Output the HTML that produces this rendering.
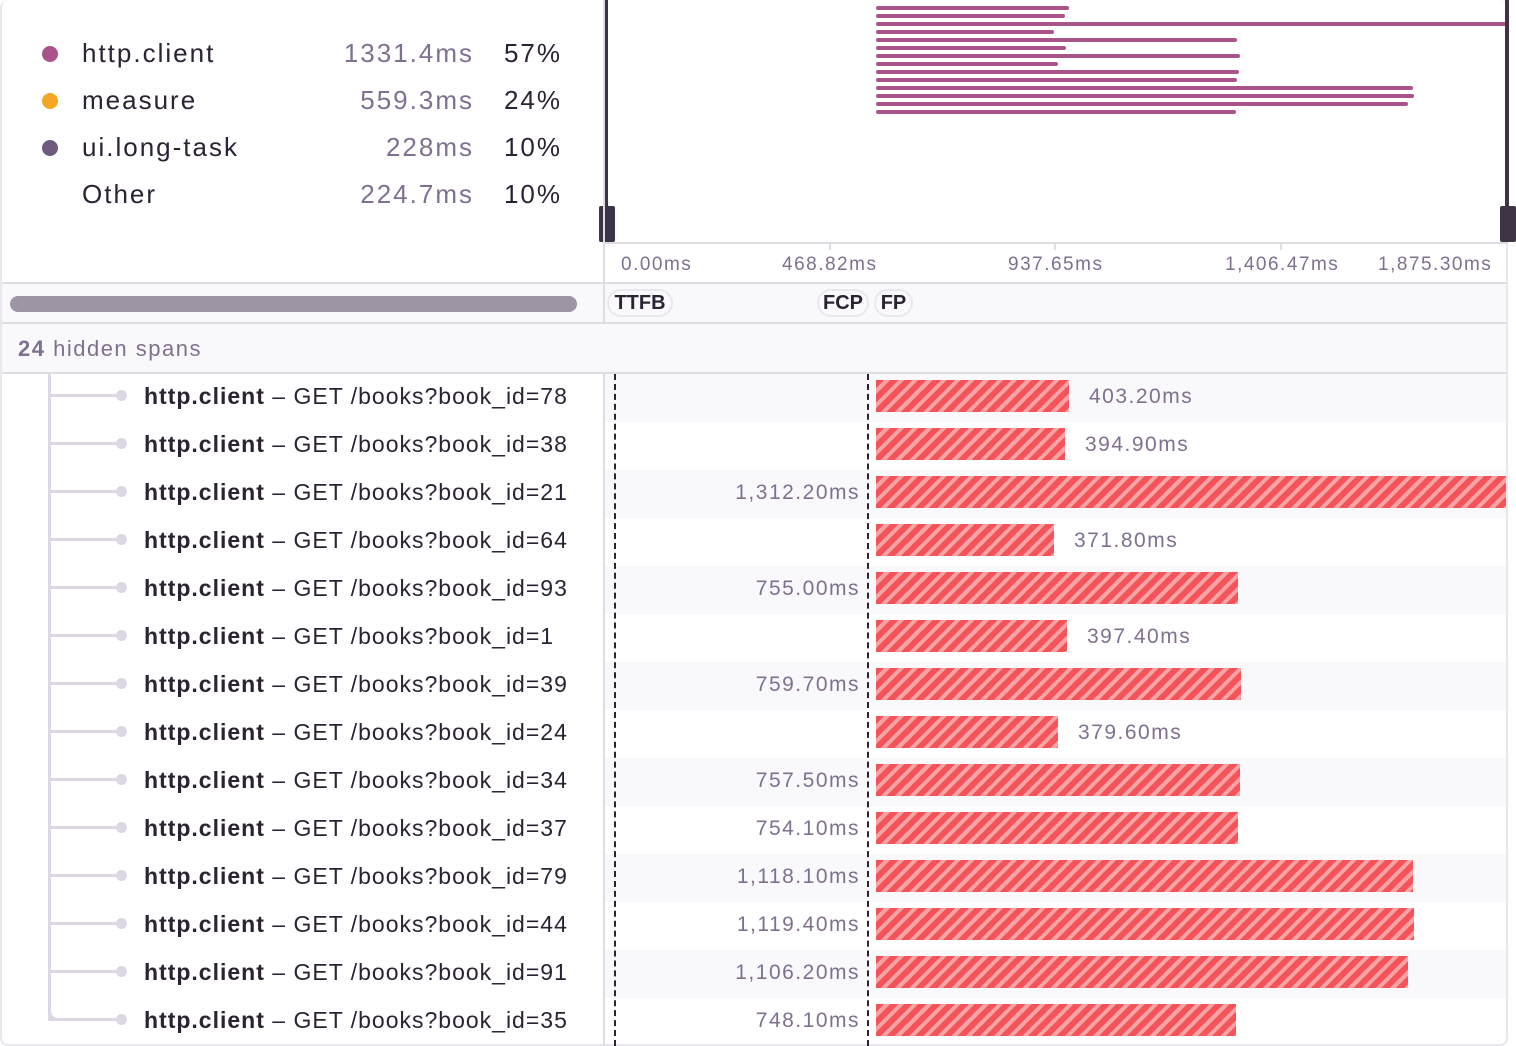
<!DOCTYPE html>
<html><head><meta charset="utf-8"><style>
*{margin:0;padding:0;box-sizing:border-box}
body{width:1516px;height:1046px;background:#fff;font-family:"Liberation Sans",sans-serif;position:relative;overflow:hidden;color:#2b2233}
.a{position:absolute}
.leg{font-size:26px;color:#2b2233;line-height:30px;letter-spacing:2px;white-space:nowrap}
.val{color:#80708f;text-align:right}
.row{position:absolute;left:2px;width:1504px;height:48px}
.lbl{position:absolute;left:144px;font-size:23px;line-height:48px;white-space:nowrap;color:#2b2233;letter-spacing:1px}
.lbl b{font-weight:bold}
.bar{position:absolute;height:32px;top:8px;background:repeating-linear-gradient(135deg,#f5535a 0 6px,#f8a3a5 6px 10px)}
.ms{position:absolute;font-size:21px;color:#80708f;line-height:48px;white-space:nowrap;letter-spacing:1.5px}
.mm{position:absolute;height:4px;border-radius:2px;background:#a8548a;left:876px}
.badge{position:absolute;top:289px;height:28px;border:2px solid #ebe7ef;border-radius:14px;font-weight:bold;font-size:20px;line-height:24px;text-align:center;background:#faf9fc}
.tick{position:absolute;font-size:19px;color:#80708f;top:254px;white-space:nowrap;letter-spacing:1.5px}
</style></head><body>
<div class="a" style="left:0;top:0;width:1508px;height:1046px;border:2px solid #e9e6ee;border-radius:8px;border-top:none"></div>
<div class="a" style="left:42px;top:46px;width:16px;height:16px;border-radius:50%;background:#a8548a"></div>
<div class="a" style="left:42px;top:93px;width:16px;height:16px;border-radius:50%;background:#f5a623"></div>
<div class="a" style="left:42px;top:140px;width:16px;height:16px;border-radius:50%;background:#6d5a7e"></div>
<div class="a leg" style="left:82px;top:38px">http.client</div>
<div class="a leg" style="left:82px;top:85px">measure</div>
<div class="a leg" style="left:82px;top:132px">ui.long-task</div>
<div class="a leg" style="left:82px;top:179px">Other</div>
<div class="a leg val" style="left:274px;top:38px;width:200px">1331.4ms</div>
<div class="a leg val" style="left:274px;top:85px;width:200px">559.3ms</div>
<div class="a leg val" style="left:274px;top:132px;width:200px">228ms</div>
<div class="a leg val" style="left:274px;top:179px;width:200px">224.7ms</div>
<div class="a leg" style="left:462px;top:38px;width:100px;text-align:right">57%</div>
<div class="a leg" style="left:462px;top:85px;width:100px;text-align:right">24%</div>
<div class="a leg" style="left:462px;top:132px;width:100px;text-align:right">10%</div>
<div class="a leg" style="left:462px;top:179px;width:100px;text-align:right">10%</div>
<div class="mm" style="top:6px;width:193px"></div>
<div class="mm" style="top:14px;width:189px"></div>
<div class="mm" style="top:22px;width:630px"></div>
<div class="mm" style="top:30px;width:178px"></div>
<div class="mm" style="top:38px;width:361px"></div>
<div class="mm" style="top:46px;width:190px"></div>
<div class="mm" style="top:54px;width:364px"></div>
<div class="mm" style="top:62px;width:182px"></div>
<div class="mm" style="top:70px;width:363px"></div>
<div class="mm" style="top:78px;width:361px"></div>
<div class="mm" style="top:86px;width:537px"></div>
<div class="mm" style="top:94px;width:538px"></div>
<div class="mm" style="top:102px;width:532px"></div>
<div class="mm" style="top:110px;width:360px"></div>
<div class="a" style="left:604px;top:0;width:4px;height:242px;background:#3e3446"></div>
<div class="a" style="left:599px;top:206px;width:16px;height:36px;background:#3e3446;border-radius:2px"></div>
<div class="a" style="left:1505px;top:0;width:4px;height:242px;background:#3e3446"></div>
<div class="a" style="left:1500px;top:206px;width:16px;height:36px;background:#3e3446;border-radius:2px"></div>
<div class="a" style="left:604px;top:242px;width:904px;height:2px;background:#e0dce5"></div>
<div class="a" style="left:829px;top:242px;width:2px;height:8px;background:#e0dce5"></div>
<div class="a" style="left:1054px;top:242px;width:2px;height:8px;background:#e0dce5"></div>
<div class="a" style="left:1280px;top:242px;width:2px;height:8px;background:#e0dce5"></div>
<div class="tick" style="left:621px">0.00ms</div>
<div class="tick" style="left:782px">468.82ms</div>
<div class="tick" style="left:1008px">937.65ms</div>
<div class="tick" style="left:1225px">1,406.47ms</div>
<div class="tick" style="left:1378px">1,875.30ms</div>
<div class="a" style="left:2px;top:282px;width:1504px;height:2px;background:#e0dce5"></div>
<div class="a" style="left:2px;top:284px;width:1504px;height:38px;background:#f9f8fb"></div>
<div class="a" style="left:10px;top:296px;width:567px;height:16px;border-radius:8px;background:#9e95a3"></div>
<div class="badge" style="left:607px;width:66px">TTFB</div>
<div class="badge" style="left:817px;width:52px">FCP</div>
<div class="badge" style="left:874px;width:39px">FP</div>
<div class="a" style="left:603px;top:0;width:2px;height:324px;background:#e0dce5"></div>
<div class="a" style="left:603px;top:372px;width:2px;height:674px;background:#e0dce5"></div>
<div class="a" style="left:2px;top:322px;width:1504px;height:2px;background:#e0dce5"></div>
<div class="a" style="left:2px;top:324px;width:1504px;height:48px;background:#f9f8fb"></div>
<div class="a" style="left:18px;top:336px;font-size:22px;color:#80708f;letter-spacing:1.5px"><b>24</b> hidden spans</div>
<div class="a" style="left:2px;top:372px;width:1504px;height:2px;background:#e0dce5"></div>
<div class="row" style="top:374px;background:#f9f8fb;left:605px;width:901px"></div>
<div class="row" style="top:470px;background:#f9f8fb;left:605px;width:901px"></div>
<div class="row" style="top:566px;background:#f9f8fb;left:605px;width:901px"></div>
<div class="row" style="top:662px;background:#f9f8fb;left:605px;width:901px"></div>
<div class="row" style="top:758px;background:#f9f8fb;left:605px;width:901px"></div>
<div class="row" style="top:854px;background:#f9f8fb;left:605px;width:901px"></div>
<div class="row" style="top:950px;background:#f9f8fb;left:605px;width:901px"></div>
<div class="a" style="left:614px;top:374px;height:672px;border-left:2px dashed #2b2233"></div>
<div class="a" style="left:867px;top:374px;height:672px;border-left:2px dashed #2b2233"></div>
<div class="a" style="left:48px;top:374px;width:3px;height:647px;background:#dcd7e2"></div>
<div class="a" style="left:48px;top:1006px;width:14px;height:15px;border-left:3px solid #dcd7e2;border-bottom:3px solid #dcd7e2;border-radius:0 0 0 10px;background:#fff"></div>
<div id="rows"></div>
<script>
var d=[[78,"403.20",193,0],[38,"394.90",189,0],[21,"1,312.20",630,1],[64,"371.80",178,0],[93,"755.00",362,1],[1,"397.40",191,0],[39,"759.70",365,1],[24,"379.60",182,0],[34,"757.50",364,1],[37,"754.10",362,1],[79,"1,118.10",537,1],[44,"1,119.40",538,1],[91,"1,106.20",532,1],[35,"748.10",360,1]];
var h="";
d.forEach(function(r,i){var t=372+i*48;
h+='<div class="a" style="left:51px;top:'+(t+22)+'px;width:70px;height:3px;background:#dcd7e2"></div>';
h+='<div class="a" style="left:116px;top:'+(t+18)+'px;width:11px;height:11px;border-radius:50%;background:#dcd7e2"></div>';
h+='<div class="lbl" style="top:'+t+'px"><b>http.client</b> – GET /books?book_id='+r[0]+'</div>';
h+='<div class="bar" style="left:876px;top:'+(t+8)+'px;width:'+r[2]+'px"></div>';
if(r[3])h+='<div class="ms" style="right:'+(1516-860)+'px;top:'+(t+1)+'px">'+r[1]+'ms</div>';
else h+='<div class="ms" style="left:'+(876+r[2]+20)+'px;top:'+(t+1)+'px">'+r[1]+'ms</div>';
});
document.getElementById("rows").innerHTML=h;
</script>
</body></html>
